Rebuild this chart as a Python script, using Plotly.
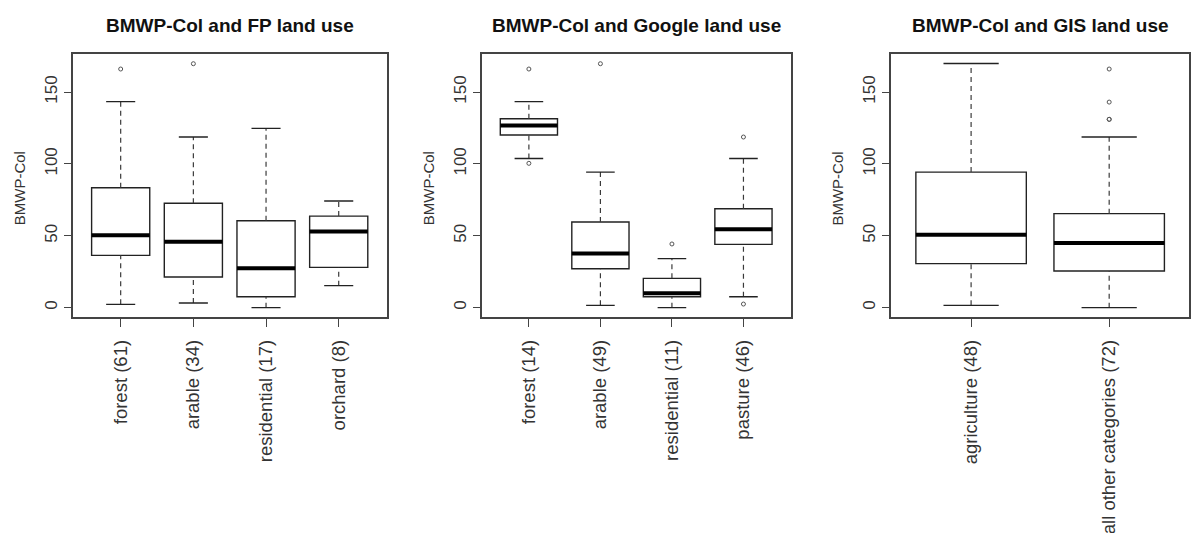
import plotly.graph_objects as go

# ---- BMWP-Col summary statistics per land-use class ----
# FP land use
fp_labels = ["forest (61)", "arable (34)", "residential (17)", "orchard (8)"]
fp_low = [2.3, 3.2, 0.0, 15.3]
fp_q1 = [36.4, 21.3, 7.6, 28.0]
fp_median = [50.3, 45.9, 27.4, 52.9]
fp_q3 = [83.4, 72.6, 60.5, 63.7]
fp_high = [143.3, 118.7, 124.7, 74.2]
fp_outliers = [[166.0], [169.7], [], []]

# Google land use
google_labels = ["forest (14)", "arable (49)", "residential (11)", "pasture (46)"]
google_low = [103.8, 1.6, 0.0, 7.6]
google_q1 = [120.1, 27.1, 7.6, 44.0]
google_median = [126.8, 37.6, 10.0, 54.5]
google_q3 = [131.4, 59.6, 20.4, 68.8]
google_high = [143.3, 94.3, 34.1, 103.8]
google_outliers = [[166.0, 100.4], [169.7], [44.3], [118.7, 2.5]]

# GIS land use
gis_labels = ["agriculture (48)", "all other categories (72)"]
gis_low = [1.6, 0.0]
gis_q1 = [30.6, 25.5]
gis_median = [50.8, 45.0]
gis_q3 = [94.3, 65.4]
gis_high = [169.9, 118.7]
gis_outliers = [[], [166.0, 143.0, 131.0, 131.0]]

titles = ["BMWP-Col and FP land use",
          "BMWP-Col and Google land use",
          "BMWP-Col and GIS land use"]
y_ticks = [0, 50, 100, 150]

panels = [
    (fp_labels, fp_low, fp_q1, fp_median, fp_q3, fp_high, fp_outliers),
    (google_labels, google_low, google_q1, google_median, google_q3, google_high, google_outliers),
    (gis_labels, gis_low, gis_q1, gis_median, gis_q3, gis_high, gis_outliers),
]

FONT = "Liberation Sans, Arial, sans-serif"
BOX_W = 0.8          # box width in category units
CAP_W = 0.5 * BOX_W  # staple width
x_domains = [[0.061, 0.3244], [0.4041, 0.6633], [0.7475, 0.9977]]
y_domain = [0.4058, 0.898]

fig = go.Figure()

for k, (labels, low, q1, med, q3, high, outs) in enumerate(panels):
    sfx = "" if k == 0 else str(k + 1)
    xa, ya = "x" + sfx, "y" + sfx
    pos = list(range(1, len(labels) + 1))

    # dashed whiskers
    wx, wy = [], []
    for p, lo, a, b, hi in zip(pos, low, q1, q3, high):
        wx += [p, p, None, p, p, None]
        wy += [lo, a, None, b, hi, None]
    fig.add_trace(go.Scatter(x=wx, y=wy, mode="lines", xaxis=xa, yaxis=ya,
                             line=dict(color="#3a3a3a", width=1.2, dash="5px,4px"),
                             showlegend=False, hoverinfo="skip"))
    # staples
    cx, cy = [], []
    for p, lo, hi in zip(pos, low, high):
        cx += [p - CAP_W / 2, p + CAP_W / 2, None, p - CAP_W / 2, p + CAP_W / 2, None]
        cy += [lo, lo, None, hi, hi, None]
    fig.add_trace(go.Scatter(x=cx, y=cy, mode="lines", xaxis=xa, yaxis=ya,
                             line=dict(color="#222", width=1.4),
                             showlegend=False, hoverinfo="skip"))
    # boxes
    fig.add_trace(go.Box(x=pos, q1=q1, median=med, q3=q3,
                         lowerfence=q1, upperfence=q3,
                         width=BOX_W, whiskerwidth=0,
                         fillcolor="white", line=dict(color="#222", width=1.4),
                         boxpoints=False, xaxis=xa, yaxis=ya, showlegend=False))
    # heavy median bars
    mx, my = [], []
    for p, m in zip(pos, med):
        mx += [p - BOX_W / 2, p + BOX_W / 2, None]
        my += [m, m, None]
    fig.add_trace(go.Scatter(x=mx, y=my, mode="lines", xaxis=xa, yaxis=ya,
                             line=dict(color="black", width=4),
                             showlegend=False, hoverinfo="skip"))
    # outlying points
    ox, oy = [], []
    for p, vals in zip(pos, outs):
        ox += [p] * len(vals)
        oy += vals
    fig.add_trace(go.Scatter(x=ox, y=oy, mode="markers", xaxis=xa, yaxis=ya,
                             marker=dict(symbol="circle-open", size=4, color="#555",
                                         line=dict(color="#555", width=1)),
                             showlegend=False, hoverinfo="skip"))

    n = len(labels)
    pad = 0.04 * n
    fig.update_layout({
        "xaxis" + sfx: dict(domain=x_domains[k], anchor=ya,
                            range=[0.5 - pad, n + 0.5 + pad],
                            tickmode="array", tickvals=pos, ticktext=labels,
                            tickangle=-90, ticks="outside", ticklen=8,
                            tickcolor="#444", tickwidth=1.2,
                            ticklabelstandoff=6,
                            tickfont=dict(family=FONT, size=18.5, color="#333"),
                            showline=True, mirror=True, linecolor="#444",
                            linewidth=1.6, showgrid=False, zeroline=False,
                            automargin=False),
        "yaxis" + sfx: dict(domain=y_domain, anchor=xa,
                            range=[-6.3, 176.2],
                            tickmode="array", tickvals=y_ticks,
                            ticktext=[str(v) for v in y_ticks],
                            tickangle=-90, ticks="outside", ticklen=7,
                            tickcolor="#444", tickwidth=1.2,
                            tickfont=dict(family=FONT, size=17, color="#333"),
                            showline=True, mirror=True, linecolor="#444",
                            linewidth=1.6, showgrid=False, zeroline=False,
                            automargin=False),
    })

    fig.add_annotation(text="<b>" + titles[k] + "</b>", xref=xa + " domain", x=0.5,
                       yref="paper", y=1 - 25.5 / 533, xanchor="center",
                       yanchor="middle", showarrow=False,
                       font=dict(family=FONT, size=19, color="#111"))
    fig.add_annotation(text="BMWP-Col", xref=xa + " domain", x=0, xshift=-53,
                       yref=ya + " domain", y=0.5, yshift=-3,
                       xanchor="center", yanchor="middle", textangle=-90,
                       showarrow=False,
                       font=dict(family=FONT, size=15, color="#333"))

fig.update_layout(width=1192, height=533,
                  margin=dict(l=0, r=0, t=0, b=0),
                  paper_bgcolor="white", plot_bgcolor="white",
                  showlegend=False)

fig.write_html("out.html")
